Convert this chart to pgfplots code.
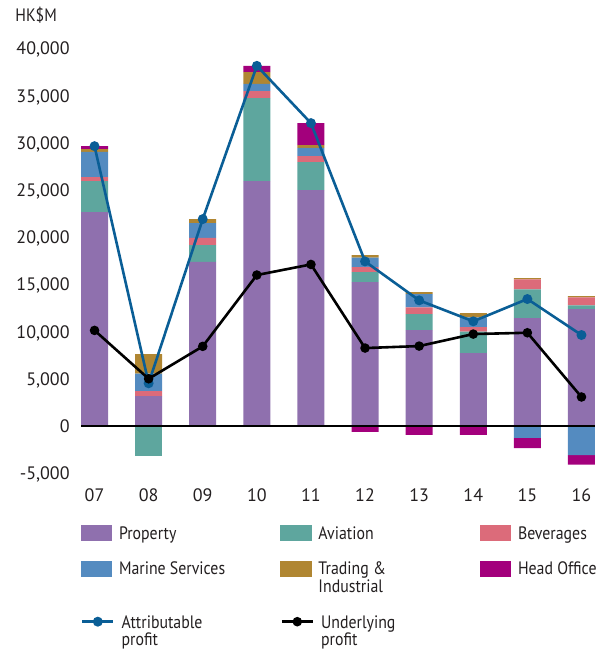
\documentclass[border=0pt]{standalone}
\usepackage{pgfplots}
\pgfplotsset{compat=1.18}
\usepackage{fontspec}
\setmainfont{PT Sans}
\newfontfamily\legfont{PT Sans}[FakeStretch=0.88]
\definecolor{cProp}{RGB}{143,112,174}
\definecolor{cAvi}{RGB}{94,166,158}
\definecolor{cBev}{RGB}{220,107,122}
\definecolor{cMar}{RGB}{84,139,192}
\definecolor{cTrad}{RGB}{176,134,50}
\definecolor{cHO}{RGB}{163,0,124}
\definecolor{cAttr}{RGB}{10,94,150}
\definecolor{txt}{RGB}{35,31,32}
\pgfplotsset{
  base/.style={
    scale only axis, width=257pt, height=212.57pt,
    at={(40.5pt,89.38pt)}, anchor=south west,
    xmin=-0.25, xmax=9.25, ymin=-5000, ymax=40000,
  },
  barleg/.style={legend image code/.code={\fill[##1] (0pt,-0.85pt) rectangle (15.5pt,7.15pt); \path (19pt,0pt);}},
  lineleg/.style={legend image code/.code={\draw[mark repeat=2,mark phase=2,##1,/tikz/sharp plot] plot coordinates {(0pt,3.3pt) (7.75pt,3.3pt) (15.5pt,3.3pt)}; \path (19pt,0pt);}},
  imgProp/.style={fill=cProp, draw=none, barleg},
  imgAvi/.style={fill=cAvi, draw=none, barleg},
  imgBev/.style={fill=cBev, draw=none, barleg},
  imgMar/.style={fill=cMar, draw=none, barleg},
  imgTrad/.style={fill=cTrad, draw=none, barleg},
  imgHO/.style={fill=cHO, draw=none, barleg},
  imgAttr/.style={color=cAttr, line width=1.3pt, mark=*, mark size=1.8pt, lineleg},
  imgUnd/.style={color=black, line width=1.3pt, mark=*, mark size=1.7pt, lineleg},
}
\newcommand{\legentry}[4]{%
\begin{axis}[base, hide axis,
  legend style={at={(#1,#2)}, anchor=north west, draw=none, fill=none,
    inner sep=0pt, outer sep=0pt, column sep=0pt, row sep=0pt,
    cells={anchor=base west}, nodes={inner sep=0pt, text=txt}}]
\addlegendimage{#3}
\addlegendentry{\parbox[t]{80pt}{\legfont\rule{0pt}{7.5pt}#4}}
\end{axis}}
\begin{document}
\begin{tikzpicture}[font=\fontsize{9pt}{8.75pt}\selectfont, text=txt]
\useasboundingbox (0,0) rectangle (301.5pt,326pt);
\node[anchor=base west, inner sep=0pt] at (7.5pt,315.15pt) {\legfont HK\$M};
% positive parts
\begin{axis}[base,
  ybar stacked, bar width=13.5pt,
  axis line style={draw=none}, major tick length=0pt,
  scaled y ticks=false,
  /pgf/number format/assume math mode=true,
  xtick={0,1,2,3,4,5,6,7,8,9},
  xticklabels={07,08,09,10,11,12,13,14,15,16},
  ytick={-5000,0,5000,10000,15000,20000,25000,30000,35000,40000},
  yticklabels={{-5,000},{0},{5,000},{10,000},{15,000},{20,000},{25,000},{30,000},{35,000},{40,000}},
  yticklabel style={anchor=base east, inner sep=0pt, xshift=-5.5pt, yshift=-3.35pt, text=txt},
  xticklabel style={anchor=base, inner sep=0pt, yshift=-13.9pt, text=txt},
]
\addplot[fill=cProp, draw=none] coordinates {(0,22640) (1,3170) (2,17380) (3,25920) (4,24970) (5,15230) (6,10160) (7,7720) (8,11430) (9,12380)};
\addplot[fill=cAvi, draw=none] coordinates {(0,3280) (1,0) (2,1770) (3,8780) (4,2960) (5,1060) (6,1690) (7,2260) (8,3030) (9,390)};
\addplot[fill=cBev, draw=none] coordinates {(0,420) (1,530) (2,770) (3,740) (4,640) (5,530) (6,710) (7,490) (8,1060) (9,840)};
\addplot[fill=cMar, draw=none] coordinates {(0,2680) (1,1840) (2,1560) (3,780) (4,880) (5,990) (6,1410) (7,1030) (8,0) (9,0)};
\addplot[fill=cTrad, draw=none] coordinates {(0,280) (1,2080) (2,420) (3,1230) (4,280) (5,280) (6,210) (7,460) (8,140) (9,140)};
\addplot[fill=cHO, draw=none] coordinates {(0,320) (1,0) (2,0) (3,670) (4,2330) (5,0) (6,0) (7,0) (8,0) (9,0)};
\end{axis}
% negative parts
\begin{axis}[base, hide axis, ybar stacked, bar width=13.5pt]
\addplot[fill=cAvi, draw=none] coordinates {(0,0) (1,-3140) (2,0) (3,0) (4,0) (5,0) (6,0) (7,0) (8,0) (9,0)};
\addplot[fill=cMar, draw=none] coordinates {(0,0) (1,0) (2,0) (3,0) (4,0) (5,0) (6,0) (7,0) (8,-1270) (9,-3070)};
\addplot[fill=cHO, draw=none] coordinates {(0,0) (1,0) (2,0) (3,0) (4,0) (5,-630) (6,-950) (7,-950) (8,-1060) (9,-1020)};
\end{axis}
% lines
\begin{axis}[base, hide axis, clip=false]
\addplot[black, line width=0.6pt] coordinates {(-0.25,0) (9.25,0)};
\addplot[color=cAttr, line width=1.3pt, mark=*, mark size=1.8pt] coordinates {(0,29620) (1,4520) (2,21900) (3,38120) (4,32060) (5,17420) (6,13300) (7,11080) (8,13440) (9,9630)};
\addplot[color=black, line width=1.3pt, mark=*, mark size=1.7pt] coordinates {(0,10120) (1,5000) (2,8430) (3,15980) (4,17100) (5,8250) (6,8460) (7,9730) (8,9870) (9,3070)};
\end{axis}
% legend entries
\legentry{0}{-0.1201}{imgProp}{Property}
\legentry{0.38813}{-0.1201}{imgAvi}{Aviation}
\legentry{0.77626}{-0.1201}{imgBev}{Beverages}
\legentry{0}{-0.20407}{imgMar}{Marine Services}
\legentry{0.38813}{-0.20407}{imgTrad}{Trading \&\\Industrial}
\legentry{0.77626}{-0.20407}{imgHO}{Head Office}
\legentry{0}{-0.32944}{imgAttr}{Attributable\\profit}
\legentry{0.38813}{-0.32944}{imgUnd}{Underlying\\profit}
\end{tikzpicture}
\end{document}
